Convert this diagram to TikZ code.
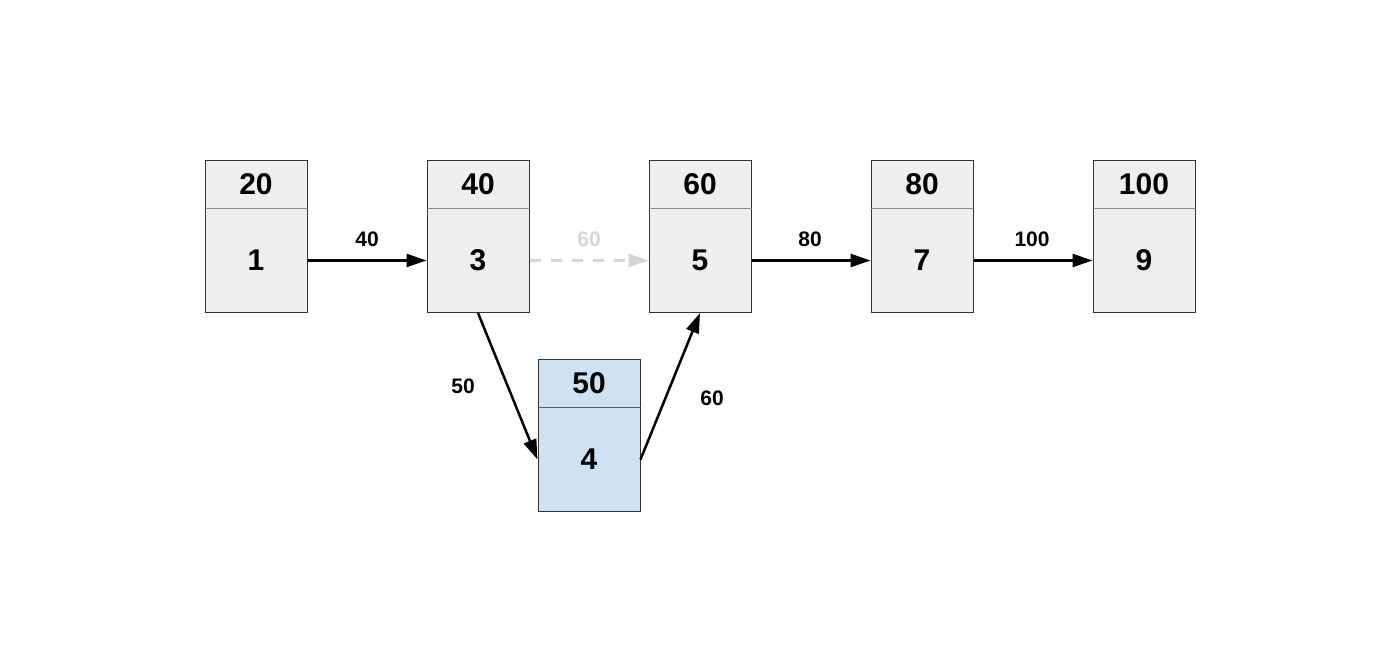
\documentclass[tikz,border=0pt]{standalone}
\usepackage{fontspec}
\setmainfont{Liberation Sans}
\usetikzlibrary{arrows.meta,positioning}
\definecolor{boxfill}{HTML}{EFEFEF}
\definecolor{bluefill}{HTML}{CFE2F3}
\definecolor{boxline}{HTML}{333333}
\definecolor{divline}{HTML}{8A8A8A}
\definecolor{ghost}{HTML}{D6D6D6}
\tikzset{
  hdr/.style={draw=boxline, line width=0.5pt, fill=boxfill, minimum width=51pt, minimum height=24pt, inner sep=0pt, font=\fontsize{15}{16}\bfseries\selectfont, anchor=north},
  bdy/.style={draw=boxline, line width=0.5pt, fill=boxfill, minimum width=51pt, minimum height=52pt, inner sep=0pt, font=\fontsize{15}{16}\bfseries\selectfont, anchor=north},
  blue/.style={fill=bluefill},
  conn/.style={line width=1.25pt, -{Triangle[length=10pt,width=6.5pt]}},
  ghostconn/.style={conn, draw=ghost, dash pattern=on 5.5pt off 5pt},
  lbl/.style={font=\fontsize{10.5}{12}\bfseries\selectfont, inner sep=0pt},
  num/.style={font=\fontsize{15}{16}\bfseries\selectfont}
}
\begin{document}
\begin{tikzpicture}[x=0.5pt,y=-0.5pt]
\useasboundingbox[fill=white] (0,0) rectangle (1400,672);
\node[bdy] (b1) at (256,208) {};
\node[hdr] (h1) at (256,160) {20};
\node[num] (n1) at (b1.center) {1};
\node[bdy] (b3) at (478,208) {};
\node[hdr] (h3) at (478,160) {40};
\node[num] (n3) at (b3.center) {3};
\node[bdy] (b5) at (700,208) {};
\node[hdr] (h5) at (700,160) {60};
\node[num] (n5) at (b5.center) {5};
\node[bdy] (b7) at (922,208) {};
\node[hdr] (h7) at (922,160) {80};
\node[num] (n7) at (b7.center) {7};
\node[bdy] (b9) at (1144,208) {};
\node[hdr] (h9) at (1144,160) {100};
\node[num] (n9) at (b9.center) {9};
\node[bdy,blue] (b4) at (589,407) {};
\node[hdr,blue] (h4) at (589,359) {50};
\node[num] (n4) at (b4.center) {4};
\foreach \n in {1,3,5,7,9} {\draw[divline, line width=0.5pt] (h\n.south west) -- (h\n.south east);}
\draw[boxline!80, line width=0.5pt] (h4.south west) -- (h4.south east);
\draw[conn] (b1.east) -- (b3.west);
\draw[ghostconn] (b3.east) -- (b5.west);
\draw[conn] (b5.east) -- (b7.west);
\draw[conn] (b7.east) -- (b9.west);
\draw[conn] (b3.south) -- (b4.west);
\draw[conn] (b4.east) -- (b5.south);
\node[lbl] (l13) at (367,239) {40};
\node[lbl, text=ghost] (l35) at (589,239) {60};
\node[lbl] (l57) at (810,239) {80};
\node[lbl] (l79) at (1032,239) {100};
\node[lbl] (l34) at (463,386) {50};
\node[lbl] (l45) at (712,398) {60};
\end{tikzpicture}
\end{document}
